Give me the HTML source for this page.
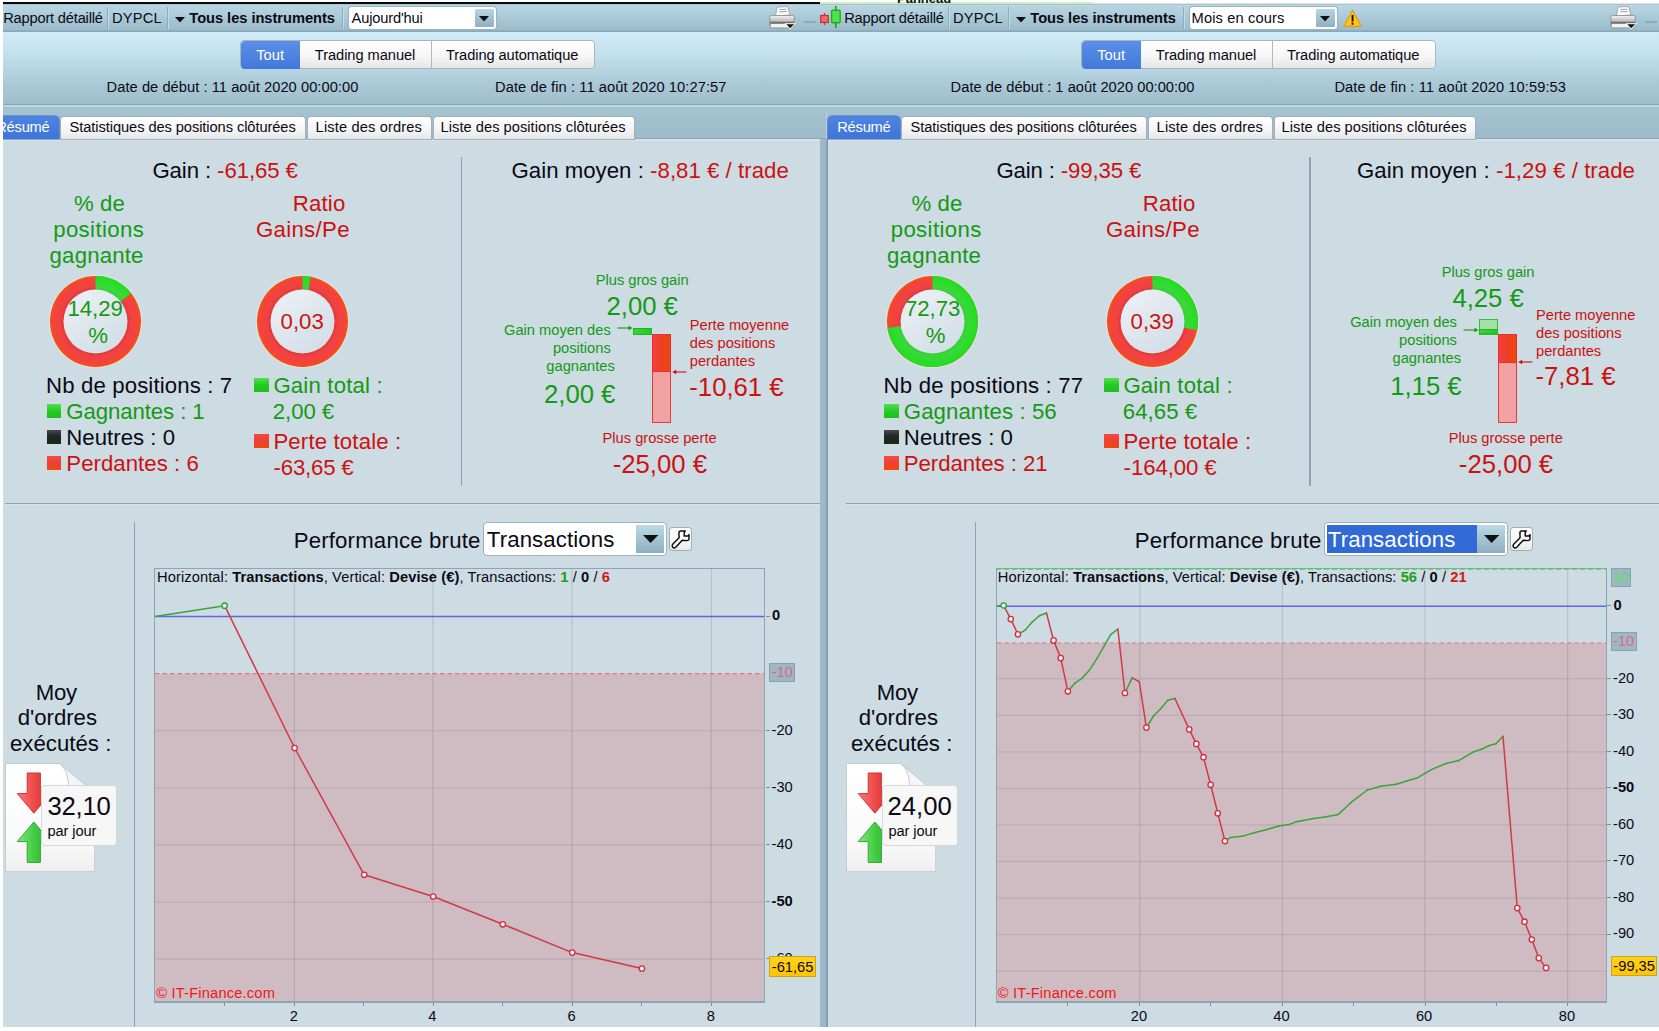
<!DOCTYPE html>
<html><head><meta charset="utf-8"><title>Rapport détaillé</title><style>
html,body{margin:0;padding:0;background:#fff;}
body{width:1659px;height:1031px;position:relative;overflow:hidden;font-family:"Liberation Sans",sans-serif;}
.t{position:absolute;white-space:pre;}
.b{position:absolute;}
.clip{position:absolute;overflow:hidden;}
.clip>.in{position:absolute;top:0;}
b{font-weight:700;}
</style></head><body>
<div class="b" style="left:3px;top:4px;width:1656px;height:28px;background:linear-gradient(#bad7e3,#adccd9 40%,#a3c2d0 70%,#9bbaca);"></div>
<div class="b" style="left:3px;top:30px;width:1656px;height:2px;background:linear-gradient(#93b2c1,#88a7b6);"></div>
<div class="b" style="left:3px;top:4px;width:1656px;height:1px;background:#a9c4d0;"></div>
<div class="b" style="left:3px;top:32px;width:1656px;height:72px;background:linear-gradient(#d0ecf8,#c3e0ec 30%,#a9c8d6 75%,#9fbdcb);"></div>
<div class="b" style="left:3px;top:104px;width:1656px;height:1px;background:#88a5b3;"></div>
<div class="b" style="left:3px;top:105px;width:1656px;height:1.5px;background:#bcd6e1;"></div>
<div class="b" style="left:3px;top:106.5px;width:1656px;height:33.5px;background:linear-gradient(#a6c3d1,#9cbac9);"></div>
<div class="b" style="left:3px;top:139px;width:1656px;height:888px;background:#cddbe3;"></div>
<div class="b" style="left:3px;top:138.4px;width:1656px;height:1px;background:#8da6b4;"></div>
<div class="b" style="left:3px;top:139.4px;width:1656px;height:1.6px;background:#d6e1e9;"></div>
<div class="b" style="left:820px;top:139px;width:8px;height:888px;background:linear-gradient(90deg,#9dbbc9,#98b6c5 70%,#7d98a8 92%,#8aa4b3);"></div>
<div class="b" style="left:826px;top:112px;width:1px;height:27px;background:#b5cdd9;"></div>
<div class="clip" style="left:3px;top:0;width:817px;height:1027px"><div class="in" style="left:-3px">
<div class="t" style="left:3.2px;top:11px;font-size:14.67px;line-height:14.67px;color:#0a0a14;letter-spacing:-0.194px;">Rapport détaillé</div>
<div class="b" style="left:107px;top:7px;width:1px;height:22px;background:#8eadbc;"></div>
<div class="b" style="left:108px;top:7px;width:1px;height:22px;background:#c2dbe6;"></div>
<div class="t" style="left:112px;top:11px;font-size:14.67px;line-height:14.67px;color:#0a0a14;letter-spacing:0.220px;">DYPCL</div>
<div class="b" style="left:167px;top:7px;width:1px;height:22px;background:#8eadbc;"></div>
<div class="b" style="left:168px;top:7px;width:1px;height:22px;background:#c2dbe6;"></div>
<svg class="b" style="left:174.5px;top:16.5px;" width="10" height="5.5" viewBox="0 0 10 5.5"><path d="M0 0 L10 0 L5 5.5 Z" fill="#111"/></svg>
<div class="t" style="left:189.3px;top:11px;font-size:14.67px;line-height:14.67px;color:#0a0a14;letter-spacing:-0.035px;"><span style="font-weight:700;">Tous les instruments</span></div>
<div class="b" style="left:342px;top:7px;width:1px;height:22px;background:#8eadbc;"></div>
<div class="b" style="left:343px;top:7px;width:1px;height:22px;background:#c2dbe6;"></div>
<div class="b" style="left:348.6px;top:7px;width:147.4px;height:22.4px;background:#fff;border-radius:3px;box-shadow:0 0 0 1px #9db3bf;"></div>
<div class="b" style="left:475px;top:8.8px;width:18.8px;height:18.6px;background:linear-gradient(#b7d6e3,#8fb0bf);border-radius:1px;"></div>
<svg class="b" style="left:479.4px;top:15.65px;" width="10" height="5.5" viewBox="0 0 10 5.5"><path d="M0 0 L10 0 L5 5.5 Z" fill="#111"/></svg>
<div class="t" style="left:351.6px;top:11px;font-size:14.67px;line-height:14.67px;color:#0a0a14;letter-spacing:-0.172px;">Aujourd'hui</div>
<svg class="b" style="left:768.5px;top:6px;" width="28" height="25" viewBox="0 0 28 25"><defs><linearGradient id="pg" x1="0" y1="0" x2="0" y2="1"><stop offset="0" stop-color="#f4f4f4"/><stop offset="0.45" stop-color="#bdbdbd"/><stop offset="0.55" stop-color="#6e6e6e"/><stop offset="1" stop-color="#e9e9e9"/></linearGradient></defs><path d="M8 1 L18.5 0.5 L21 9 L6.5 10 Z" fill="#fafafa" stroke="#9a9a9a" stroke-width="0.8"/><line x1="10.5" y1="3.6" x2="17" y2="3.3" stroke="#999" stroke-width="0.9"/><line x1="10.2" y1="5.8" x2="17.6" y2="5.5" stroke="#999" stroke-width="0.9"/><rect x="0.8" y="9.5" width="24.5" height="12.5" rx="1.5" fill="url(#pg)" stroke="#8c8c8c" stroke-width="0.8"/><rect x="2" y="18" width="22" height="3" fill="#f2f2f2"/><path d="M15.5 17.2 L27 17.2 L21.2 23.6 Z" fill="#fff"/><path d="M17.3 18.2 L25.2 18.2 L21.2 22.3 Z" fill="#111"/></svg>
<div class="b" style="left:804px;top:20.5px;width:12px;height:2.5px;background:#8daaba;"></div>
<div class="b" style="left:241px;top:41.4px;width:353px;height:26.8px;background:linear-gradient(#ffffff,#f6f6f6 55%,#e6e6e6);border-radius:3.5px;box-shadow:0 0 0 1px #aab4ba;"></div>
<div class="b" style="left:240.6px;top:40.9px;width:59.2px;height:27.8px;background:linear-gradient(#5b8fe8,#4279d8);border-radius:4px 0 0 4px;"></div>
<div class="b" style="left:431px;top:41.4px;width:1px;height:26.8px;background:#b4b9bd;"></div>
<div class="t" style="left:256.2px;top:48px;font-size:14.67px;line-height:14.67px;color:#fff;letter-spacing:0.057px;">Tout</div>
<div class="t" style="left:314.8px;top:48px;font-size:14.67px;line-height:14.67px;color:#0a0a14;letter-spacing:-0.057px;">Trading manuel</div>
<div class="t" style="left:446px;top:48px;font-size:14.67px;line-height:14.67px;color:#0a0a14;letter-spacing:-0.085px;">Trading automatique</div>
<div class="t" style="left:106.6px;top:80px;font-size:14.67px;line-height:14.67px;color:#0a0a14;letter-spacing:0.051px;">Date de début : 11 août 2020 00:00:00</div>
<div class="t" style="left:495px;top:80px;font-size:14.67px;line-height:14.67px;color:#0a0a14;letter-spacing:0.081px;">Date de fin : 11 août 2020 10:27:57</div>
<div class="b" style="left:-13.5px;top:115.5px;width:72px;height:23.5px;background:linear-gradient(#4d84e2,#3f76d6);border-radius:4px 4px 0 0;box-shadow:0 0 0 0.6px #3b6dc6;"></div>
<div class="b" style="left:60.5px;top:116.5px;width:244.5px;height:22.5px;background:linear-gradient(#ffffff,#f4f4f4 60%,#e4e6e8);border-radius:3px 3px 0 0;box-shadow:0 0 0 1px #9fb0ba;"></div>
<div class="b" style="left:307.5px;top:116.5px;width:123.5px;height:22.5px;background:linear-gradient(#ffffff,#f4f4f4 60%,#e4e6e8);border-radius:3px 3px 0 0;box-shadow:0 0 0 1px #9fb0ba;"></div>
<div class="b" style="left:433.5px;top:116.5px;width:200.7px;height:22.5px;background:linear-gradient(#ffffff,#f4f4f4 60%,#e4e6e8);border-radius:3px 3px 0 0;box-shadow:0 0 0 1px #9fb0ba;"></div>
<div class="t" style="left:-3.8px;top:120px;font-size:14.67px;line-height:14.67px;color:#fff;letter-spacing:-0.205px;">Résumé</div>
<div class="t" style="left:69.6px;top:120px;font-size:14.67px;line-height:14.67px;color:#0a0a14;letter-spacing:-0.080px;">Statistiques des positions clôturées</div>
<div class="t" style="left:315.6px;top:120px;font-size:14.67px;line-height:14.67px;color:#0a0a14;letter-spacing:0.137px;">Liste des ordres</div>
<div class="t" style="left:440.6px;top:120px;font-size:14.67px;line-height:14.67px;color:#0a0a14;letter-spacing:0.029px;">Liste des positions clôturées</div>
<div class="t" style="left:152.4px;top:160px;font-size:22.2px;line-height:22.2px;color:#0a0a14;letter-spacing:-0.095px;">Gain : <span style="color:#cc1111;">-61,65 €</span></div>
<div class="t" style="left:74px;top:193px;font-size:22.2px;line-height:22.2px;color:#149a14;letter-spacing:0.089px;">% de</div>
<div class="t" style="left:53.2px;top:219px;font-size:22.2px;line-height:22.2px;color:#149a14;letter-spacing:0.378px;">positions</div>
<div class="t" style="left:49.6px;top:245px;font-size:22.2px;line-height:22.2px;color:#149a14;letter-spacing:0.185px;">gagnante</div>
<svg class="b" style="left:47.5px;top:274px;" width="95" height="95" viewBox="0 0 95 95"><defs><radialGradient id="d1r" gradientUnits="userSpaceOnUse" cx="47.5" cy="47.5" r="45.5"><stop offset="0.703" stop-color="#e23838"/><stop offset="0.783" stop-color="#f14242"/><stop offset="0.92" stop-color="#f24340"/><stop offset="0.975" stop-color="#f64e12"/><stop offset="1" stop-color="#f8520c"/></radialGradient><radialGradient id="d1g" gradientUnits="userSpaceOnUse" cx="47.5" cy="47.5" r="45.5"><stop offset="0.703" stop-color="#37cf37"/><stop offset="0.783" stop-color="#3ad83a"/><stop offset="0.9" stop-color="#2bdc2b"/><stop offset="1" stop-color="#1ee01e"/></radialGradient><linearGradient id="d1i" x1="0.2" y1="0.1" x2="0.8" y2="0.95"><stop offset="0" stop-color="#e9eff4"/><stop offset="1" stop-color="#d2dde6"/></linearGradient></defs><circle cx="47.5" cy="47.5" r="46.8" fill="#dde7ee" opacity="0.6"/><circle cx="47.5" cy="47.5" r="45.5" fill="url(#d1r)"/><path d="M47.5 47.5 L47.5 2 A45.5 45.5 0 0 1 83.08 19.14 Z" fill="url(#d1g)"/><circle cx="47.5" cy="47.5" r="32" fill="url(#d1i)"/></svg>
<div class="t" style="left:95.2px;top:298px;font-size:22.2px;line-height:22.2px;color:#149a14;transform:translateX(-50%);">14,29</div>
<div class="t" style="left:98px;top:325px;font-size:22.2px;line-height:22.2px;color:#149a14;transform:translateX(-50%);">%</div>
<div class="t" style="left:46.1px;top:375px;font-size:22.2px;line-height:22.2px;color:#0a0a14;letter-spacing:0.126px;">Nb de positions : 7</div>
<div class="b" style="left:46.7px;top:403.9px;width:14.6px;height:14.2px;background:linear-gradient(#4fe04f,#22c822 55%,#1cc01c);"></div>
<div class="t" style="left:66.3px;top:401px;font-size:22.2px;line-height:22.2px;color:#149a14;letter-spacing:-0.087px;">Gagnantes : 1</div>
<div class="b" style="left:46.7px;top:429.9px;width:14.6px;height:14.2px;background:linear-gradient(#4a4a4a,#232323 45%,#123012);"></div>
<div class="t" style="left:66.3px;top:427px;font-size:22.2px;line-height:22.2px;color:#0a0a14;letter-spacing:0.022px;">Neutres : 0</div>
<div class="b" style="left:46.7px;top:455.9px;width:14.6px;height:14.2px;background:linear-gradient(#f24a4a,#ee4030 55%,#f0480e);"></div>
<div class="t" style="left:66.3px;top:453px;font-size:22.2px;line-height:22.2px;color:#cc1111;letter-spacing:0.047px;">Perdantes : 6</div>
<div class="t" style="left:292.7px;top:193px;font-size:22.2px;line-height:22.2px;color:#cc1111;letter-spacing:0.186px;">Ratio</div>
<div class="t" style="left:255.9px;top:219px;font-size:22.2px;line-height:22.2px;color:#cc1111;letter-spacing:0.339px;">Gains/Pe</div>
<svg class="b" style="left:254.9px;top:274px;" width="95" height="95" viewBox="0 0 95 95"><defs><radialGradient id="d2r" gradientUnits="userSpaceOnUse" cx="47.5" cy="47.5" r="45.5"><stop offset="0.703" stop-color="#e23838"/><stop offset="0.783" stop-color="#f14242"/><stop offset="0.92" stop-color="#f24340"/><stop offset="0.975" stop-color="#f64e12"/><stop offset="1" stop-color="#f8520c"/></radialGradient><radialGradient id="d2g" gradientUnits="userSpaceOnUse" cx="47.5" cy="47.5" r="45.5"><stop offset="0.703" stop-color="#37cf37"/><stop offset="0.783" stop-color="#3ad83a"/><stop offset="0.9" stop-color="#2bdc2b"/><stop offset="1" stop-color="#1ee01e"/></radialGradient><linearGradient id="d2i" x1="0.2" y1="0.1" x2="0.8" y2="0.95"><stop offset="0" stop-color="#e9eff4"/><stop offset="1" stop-color="#d2dde6"/></linearGradient></defs><circle cx="47.5" cy="47.5" r="46.8" fill="#dde7ee" opacity="0.6"/><circle cx="47.5" cy="47.5" r="45.5" fill="url(#d2r)"/><path d="M47.5 47.5 L47.5 2 A45.5 45.5 0 0 1 55.78 2.76 Z" fill="url(#d2g)"/><circle cx="47.5" cy="47.5" r="32" fill="url(#d2i)"/></svg>
<div class="t" style="left:302.2px;top:311px;font-size:22.2px;line-height:22.2px;color:#cc1111;transform:translateX(-50%);">0,03</div>
<div class="b" style="left:254px;top:378px;width:14.6px;height:14.2px;background:linear-gradient(#4fe04f,#22c822 55%,#1cc01c);"></div>
<div class="t" style="left:273.4px;top:375px;font-size:22.2px;line-height:22.2px;color:#149a14;letter-spacing:0.179px;">Gain total :</div>
<div class="t" style="left:272.8px;top:401px;font-size:22.2px;line-height:22.2px;color:#149a14;letter-spacing:-0.070px;">2,00 €</div>
<div class="b" style="left:254px;top:434.2px;width:14.6px;height:14.2px;background:linear-gradient(#f24a4a,#ee4030 55%,#f0480e);"></div>
<div class="t" style="left:273.4px;top:431px;font-size:22.2px;line-height:22.2px;color:#cc1111;letter-spacing:0.159px;">Perte totale :</div>
<div class="t" style="left:273.6px;top:457px;font-size:22.2px;line-height:22.2px;color:#cc1111;letter-spacing:-0.197px;">-63,65 €</div>
<div class="b" style="left:460.5px;top:157px;width:1.6px;height:328.5px;background:#8ea4b4;"></div>
<div class="t" style="left:511.5px;top:160px;font-size:22.2px;line-height:22.2px;color:#0a0a14;letter-spacing:0.036px;">Gain moyen : <span style="color:#cc1111;">-8,81 € / trade</span></div>
<div class="t" style="left:642.2px;top:273px;font-size:14.67px;line-height:14.67px;color:#149a14;transform:translateX(-50%);">Plus gros gain</div>
<div class="t" style="left:642.2px;top:294px;font-size:25.7px;line-height:25.7px;color:#149a14;transform:translateX(-50%);">2,00 €</div>
<div class="t" style="left:614.8px;top:323px;font-size:14.67px;line-height:14.67px;color:#149a14;transform:translateX(-100%);">Gain moyen des </div>
<div class="t" style="left:614.8px;top:341px;font-size:14.67px;line-height:14.67px;color:#149a14;transform:translateX(-100%);">positions </div>
<div class="t" style="left:614.8px;top:359px;font-size:14.67px;line-height:14.67px;color:#149a14;transform:translateX(-100%);">gagnantes</div>
<div class="t" style="left:615.4px;top:382px;font-size:25.7px;line-height:25.7px;color:#149a14;transform:translateX(-100%);">2,00 €</div>
<div class="b" style="left:633.1px;top:327.5px;width:19.1px;height:7px;background:linear-gradient(90deg,#3bd83b,#22c622);box-shadow:inset 0 0 0 1px #20b820;"></div>
<svg class="b" style="left:617.1px;top:325px;" width="16" height="6" viewBox="0 0 16 6"><line x1="0.5" y1="3" x2="14" y2="3" stroke="#149a14" stroke-width="1.1"/><path d="M11.5 0.8 L15.5 3 L11.5 5.2 Z" fill="#149a14"/></svg>
<div class="b" style="left:651.9px;top:334.2px;width:18.9px;height:89px;background:#f3a2a4;box-shadow:inset 0 0 0 1px #e83a3a;"></div>
<div class="b" style="left:651.9px;top:334.2px;width:18.9px;height:38px;background:linear-gradient(90deg,#f54040,#ee3e22 55%,#ef4a0a);box-shadow:inset 0 0 0 1px #e63030;"></div>
<svg class="b" style="left:671.8px;top:368.6px;" width="15" height="6" viewBox="0 0 15 6"><line x1="2" y1="3" x2="14.5" y2="3" stroke="#cc1111" stroke-width="1.1"/><path d="M4.2 0.8 L0.2 3 L4.2 5.2 Z" fill="#cc1111"/></svg>
<div class="t" style="left:689.8px;top:318px;font-size:14.67px;line-height:14.67px;color:#cc1111;">Perte moyenne</div>
<div class="t" style="left:689.8px;top:336px;font-size:14.67px;line-height:14.67px;color:#cc1111;">des positions</div>
<div class="t" style="left:689.8px;top:354px;font-size:14.67px;line-height:14.67px;color:#cc1111;">perdantes</div>
<div class="t" style="left:689.3px;top:375px;font-size:25.7px;line-height:25.7px;color:#cc1111;">-10,61 €</div>
<div class="t" style="left:659.6px;top:431px;font-size:14.67px;line-height:14.67px;color:#cc1111;transform:translateX(-50%);">Plus grosse perte</div>
<div class="t" style="left:659.8px;top:452px;font-size:25.7px;line-height:25.7px;color:#cc1111;transform:translateX(-50%);">-25,00 €</div>
<div class="b" style="left:5px;top:502.6px;width:815px;height:1.4px;background:#8ea6b4;"></div>
<div class="b" style="left:5px;top:504px;width:815px;height:1px;background:#d6e2e9;"></div>
<div class="b" style="left:133.6px;top:522px;width:1.6px;height:505px;background:#8ea4b4;"></div>
<div class="t" style="left:35.8px;top:682px;font-size:22.2px;line-height:22.2px;color:#0a0a14;letter-spacing:-0.311px;">Moy</div>
<div class="t" style="left:17.8px;top:707px;font-size:22.2px;line-height:22.2px;color:#0a0a14;letter-spacing:-0.039px;">d'ordres</div>
<div class="t" style="left:9.9px;top:733px;font-size:22.2px;line-height:22.2px;color:#0a0a14;letter-spacing:0.037px;">exécutés :</div>
<svg class="b" style="left:5.2px;top:762.7px;" width="90.2" height="109.2" viewBox="0 0 90.2 109.2"><defs><linearGradient id="dg1" x1="0" y1="0" x2="0" y2="1"><stop offset="0" stop-color="#ffffff"/><stop offset="0.7" stop-color="#fafafa"/><stop offset="1" stop-color="#efefef"/></linearGradient></defs><path d="M0.5 0.5 L54.6 0.5 L89.7 30 L89.7 108.7 L0.5 108.7 Z" fill="url(#dg1)" stroke="#c4ccd2" stroke-width="1"/><path d="M54.6 0.5 C61.6 6 63.6 14 64.1 30 L89.7 30 Z" fill="#f3f5f7" stroke="#c4ccd2" stroke-width="1"/><defs><linearGradient id="ra1" x1="0" y1="0" x2="1" y2="0"><stop offset="0" stop-color="#f77"/><stop offset="0.5" stop-color="#ee4a4a"/><stop offset="1" stop-color="#d83030"/></linearGradient><linearGradient id="ga1" x1="0" y1="0" x2="1" y2="0"><stop offset="0" stop-color="#7fe87f"/><stop offset="0.5" stop-color="#44cc44"/><stop offset="1" stop-color="#2cb02c"/></linearGradient></defs><path d="M22.2 10 L35.4 10 L35.4 30.6 L45.4 30.6 L28.9 50.2 L12.3 30.6 L22.2 30.6 Z" fill="url(#ra1)" stroke="#c52a2a" stroke-width="0.9" stroke-linejoin="round"/><path d="M28.9 59 L45.4 78.6 L35.4 78.6 L35.4 99.4 L22.2 99.4 L22.2 78.6 L12.3 78.6 Z" fill="url(#ga1)" stroke="#26a026" stroke-width="0.9" stroke-linejoin="round"/></svg>
<div class="b" style="left:42.4px;top:785.6px;width:73.8px;height:59.2px;background:#f7f7f7;border-radius:3px;box-shadow:0 0 0 1px #d3d9dd;"></div>
<div class="t" style="left:47.5px;top:794px;font-size:25.7px;line-height:25.7px;color:#0a0a14;letter-spacing:-0.249px;">32,10</div>
<div class="t" style="left:47.5px;top:824px;font-size:14.67px;line-height:14.67px;color:#0a0a14;letter-spacing:-0.116px;">par jour</div>
<div class="t" style="left:293.7px;top:530px;font-size:22.2px;line-height:22.2px;color:#0a0a14;letter-spacing:0.181px;">Performance brute</div>
<div class="b" style="left:484.3px;top:523.3px;width:182.2px;height:31.5px;background:#fff;border-radius:3.5px;box-shadow:0 0 0 1px #9db3bf;"></div>
<div class="b" style="left:636.2px;top:525.4px;width:28px;height:27.4px;background:linear-gradient(#bcdae6,#a4c4d2 50%,#8eafbe);"></div>
<svg class="b" style="left:642.8px;top:535.2px;" width="15.2" height="8" viewBox="0 0 15.2 8"><path d="M0 0 L15.2 0 L7.6 8 Z" fill="#111"/></svg>
<div class="t" style="left:486.8px;top:529px;font-size:22.2px;line-height:22.2px;color:#0a0a14;letter-spacing:0.128px;">Transactions</div>
<div class="b" style="left:670px;top:527.9px;width:21.3px;height:21.8px;background:linear-gradient(#fcfcfc,#f6f6f6 60%,#e9e9e9);border-radius:3px;box-shadow:0 0 0 1px #9fb0b9;"></div>
<svg class="b" style="left:669.6px;top:527.6px;" width="22" height="22" viewBox="0 0 22 22"><path d="M2.7 16.3 L9.1 9.8 L8.9 4.9 Q8.9 2.9 10.9 2.9 L15.3 2.9 L14.2 4.5 L14.2 7.9 L18.2 7.9 L19 6.7 L19 10.4 Q19 12.7 16.8 12.6 L12.2 12.2 L5.7 19.2 Q4.1 20.6 2.7 19.2 Q1.5 17.7 2.7 16.3 Z" fill="#fff" stroke="#0c0c0c" stroke-width="1.45" stroke-linejoin="round"/></svg>
<svg class="b" style="left:155.2px;top:569.3px;overflow:hidden" width="609.3" height="432.2" viewBox="0 0 609.3 432.2"><rect x="0" y="104.7" width="609.3" height="327.5" fill="#cfbbc2"/><line x1="139.3" y1="0" x2="139.3" y2="432.2" stroke="#5a6878" stroke-opacity="0.24" stroke-width="1"/><line x1="277.9" y1="0" x2="277.9" y2="432.2" stroke="#5a6878" stroke-opacity="0.24" stroke-width="1"/><line x1="417" y1="0" x2="417" y2="432.2" stroke="#5a6878" stroke-opacity="0.24" stroke-width="1"/><line x1="556.3" y1="0" x2="556.3" y2="432.2" stroke="#5a6878" stroke-opacity="0.24" stroke-width="1"/><line x1="0" y1="161.9" x2="609.3" y2="161.9" stroke="#5a5060" stroke-opacity="0.18" stroke-width="1"/><line x1="0" y1="219" x2="609.3" y2="219" stroke="#5a5060" stroke-opacity="0.18" stroke-width="1"/><line x1="0" y1="276" x2="609.3" y2="276" stroke="#5a5060" stroke-opacity="0.18" stroke-width="1"/><line x1="0" y1="333.1" x2="609.3" y2="333.1" stroke="#5a5060" stroke-opacity="0.18" stroke-width="1"/><line x1="0" y1="390.1" x2="609.3" y2="390.1" stroke="#5a5060" stroke-opacity="0.18" stroke-width="1"/><line x1="0" y1="104.7" x2="609.3" y2="104.7" stroke="#e8707c" stroke-width="1.2" stroke-dasharray="4.5 3"/><line x1="0" y1="47.6" x2="609.3" y2="47.6" stroke="#6464dc" stroke-width="1.5"/><line x1="0.2" y1="47.6" x2="69.6" y2="36.7" stroke="#3aa53a" stroke-width="1.5" stroke-linecap="round"/><line x1="69.6" y1="36.7" x2="139.6" y2="179" stroke="#d23a44" stroke-width="1.5" stroke-linecap="round"/><line x1="139.6" y1="179" x2="209.2" y2="305.8" stroke="#d23a44" stroke-width="1.5" stroke-linecap="round"/><line x1="209.2" y1="305.8" x2="278.2" y2="327.5" stroke="#d23a44" stroke-width="1.5" stroke-linecap="round"/><line x1="278.2" y1="327.5" x2="347.8" y2="355.3" stroke="#d23a44" stroke-width="1.5" stroke-linecap="round"/><line x1="347.8" y1="355.3" x2="417.3" y2="383.6" stroke="#d23a44" stroke-width="1.5" stroke-linecap="round"/><line x1="417.3" y1="383.6" x2="486.9" y2="399.6" stroke="#d23a44" stroke-width="1.5" stroke-linecap="round"/><circle cx="69.6" cy="36.7" r="2.7" fill="#e8f2f4" stroke="#2f9e2f" stroke-width="1.3"/><circle cx="139.6" cy="179" r="2.7" fill="#e8f2f4" stroke="#d2303c" stroke-width="1.3"/><circle cx="209.2" cy="305.8" r="2.7" fill="#e8f2f4" stroke="#d2303c" stroke-width="1.3"/><circle cx="278.2" cy="327.5" r="2.7" fill="#e8f2f4" stroke="#d2303c" stroke-width="1.3"/><circle cx="347.8" cy="355.3" r="2.7" fill="#e8f2f4" stroke="#d2303c" stroke-width="1.3"/><circle cx="417.3" cy="383.6" r="2.7" fill="#e8f2f4" stroke="#d2303c" stroke-width="1.3"/><circle cx="486.9" cy="399.6" r="2.7" fill="#e8f2f4" stroke="#d2303c" stroke-width="1.3"/></svg>
<div class="b" style="left:154.2px;top:568.3px;width:611.3px;height:434.4px;border:1.6px solid #8ea3b3;box-sizing:border-box;border-right-width:1.8px;border-bottom-width:2px;"></div>
<div class="t" style="left:157px;top:570px;font-size:14.67px;line-height:14.67px;color:#0a0a14;letter-spacing:0.093px;">Horizontal: <span style="font-weight:700;">Transactions</span>, Vertical: <span style="font-weight:700;">Devise (€)</span>, Transactions: <span style="font-weight:700;color:#1aa01a;">1</span> / <span style="font-weight:700;">0</span> / <span style="font-weight:700;color:#d01818;">6</span></div>
<div class="t" style="left:156.3px;top:986px;font-size:14.67px;line-height:14.67px;color:#f01818;letter-spacing:0.183px;">© IT-Finance.com</div>
<div class="t" style="left:293.8px;top:1009px;font-size:14.67px;line-height:14.67px;color:#0a0a14;transform:translateX(-50%);">2</div>
<div class="t" style="left:432.4px;top:1009px;font-size:14.67px;line-height:14.67px;color:#0a0a14;transform:translateX(-50%);">4</div>
<div class="t" style="left:571.5px;top:1009px;font-size:14.67px;line-height:14.67px;color:#0a0a14;transform:translateX(-50%);">6</div>
<div class="t" style="left:710.8px;top:1009px;font-size:14.67px;line-height:14.67px;color:#0a0a14;transform:translateX(-50%);">8</div>
<div class="b" style="left:223.95px;top:1002.5px;width:1px;height:3.5px;background:#7d8f9c;"></div>
<div class="b" style="left:293.5px;top:1002.5px;width:1px;height:3.5px;background:#7d8f9c;"></div>
<div class="b" style="left:363.05px;top:1002.5px;width:1px;height:3.5px;background:#7d8f9c;"></div>
<div class="b" style="left:432.6px;top:1002.5px;width:1px;height:3.5px;background:#7d8f9c;"></div>
<div class="b" style="left:502.15px;top:1002.5px;width:1px;height:3.5px;background:#7d8f9c;"></div>
<div class="b" style="left:571.7px;top:1002.5px;width:1px;height:3.5px;background:#7d8f9c;"></div>
<div class="b" style="left:641.25px;top:1002.5px;width:1px;height:3.5px;background:#7d8f9c;"></div>
<div class="b" style="left:710.8px;top:1002.5px;width:1px;height:3.5px;background:#7d8f9c;"></div>
<div class="b" style="left:765.5px;top:615.5px;width:4px;height:1px;background:#7d8f9c;"></div>
<div class="t" style="left:772px;top:608px;font-size:14.67px;line-height:14.67px;color:#0a0a14;font-weight:700;">0</div>
<div class="b" style="left:765.5px;top:729.8px;width:4px;height:1px;background:#7d8f9c;"></div>
<div class="t" style="left:771.5px;top:723px;font-size:14.67px;line-height:14.67px;color:#0a0a14;">-20</div>
<div class="b" style="left:765.5px;top:786.9px;width:4px;height:1px;background:#7d8f9c;"></div>
<div class="t" style="left:771.5px;top:780px;font-size:14.67px;line-height:14.67px;color:#0a0a14;">-30</div>
<div class="b" style="left:765.5px;top:843.9px;width:4px;height:1px;background:#7d8f9c;"></div>
<div class="t" style="left:771.5px;top:837px;font-size:14.67px;line-height:14.67px;color:#0a0a14;">-40</div>
<div class="b" style="left:765.5px;top:901px;width:4px;height:1px;background:#7d8f9c;"></div>
<div class="t" style="left:771.5px;top:894px;font-size:14.67px;line-height:14.67px;color:#0a0a14;font-weight:700;">-50</div>
<div class="b" style="left:765.5px;top:958px;width:4px;height:1px;background:#7d8f9c;"></div>
<div class="t" style="left:771.5px;top:951px;font-size:14.67px;line-height:14.67px;color:#0a0a14;">-60</div>
<div class="b" style="left:769.4px;top:662.6px;width:25.9px;height:19.2px;background:#9fb7c4;box-shadow:inset 0 0 0 1px #8aa2b0;"></div>
<div class="t" style="left:782.35px;top:665px;font-size:14.67px;line-height:14.67px;color:#e06a78;transform:translateX(-50%);">-10</div>
<div class="b" style="left:769.4px;top:956.2px;width:46.4px;height:20.4px;background:linear-gradient(#ffd21e,#ffc400);box-shadow:inset 0 0 0 1px #c9a420;"></div>
<div class="t" style="left:792.6px;top:960px;font-size:14.67px;line-height:14.67px;color:#0a0a14;transform:translateX(-50%);">-61,65</div>
</div></div>
<div class="clip" style="left:820px;top:0;width:839px;height:1027px"><div class="in" style="left:-820px">
<svg class="b" style="left:820px;top:0px;" width="22" height="32" viewBox="0 0 22 32"><line x1="4.5" y1="13" x2="4.5" y2="25" stroke="#c83c3c" stroke-width="1.4"/><rect x="0.7" y="15.5" width="7.6" height="7" fill="#f06a6a" stroke="#c83030" stroke-width="1.2"/><line x1="15.8" y1="6" x2="15.8" y2="28" stroke="#22a022" stroke-width="1.6"/><rect x="11.6" y="10.3" width="8.6" height="12.5" rx="1" fill="#4fe24f" stroke="#1fae1f" stroke-width="1.4"/></svg>
<div class="t" style="left:844.2px;top:11px;font-size:14.67px;line-height:14.67px;color:#0a0a14;letter-spacing:-0.194px;">Rapport détaillé</div>
<div class="b" style="left:948px;top:7px;width:1px;height:22px;background:#8eadbc;"></div>
<div class="b" style="left:949px;top:7px;width:1px;height:22px;background:#c2dbe6;"></div>
<div class="t" style="left:953px;top:11px;font-size:14.67px;line-height:14.67px;color:#0a0a14;letter-spacing:0.220px;">DYPCL</div>
<div class="b" style="left:1008px;top:7px;width:1px;height:22px;background:#8eadbc;"></div>
<div class="b" style="left:1009px;top:7px;width:1px;height:22px;background:#c2dbe6;"></div>
<svg class="b" style="left:1015.5px;top:16.5px;" width="10" height="5.5" viewBox="0 0 10 5.5"><path d="M0 0 L10 0 L5 5.5 Z" fill="#111"/></svg>
<div class="t" style="left:1030.3px;top:11px;font-size:14.67px;line-height:14.67px;color:#0a0a14;letter-spacing:-0.035px;"><span style="font-weight:700;">Tous les instruments</span></div>
<div class="b" style="left:1183px;top:7px;width:1px;height:22px;background:#8eadbc;"></div>
<div class="b" style="left:1184px;top:7px;width:1px;height:22px;background:#c2dbe6;"></div>
<div class="b" style="left:1189.6px;top:7px;width:147.4px;height:22.4px;background:#fff;border-radius:3px;box-shadow:0 0 0 1px #9db3bf;"></div>
<div class="b" style="left:1316px;top:8.8px;width:18.8px;height:18.6px;background:linear-gradient(#b7d6e3,#8fb0bf);border-radius:1px;"></div>
<svg class="b" style="left:1320.4px;top:15.65px;" width="10" height="5.5" viewBox="0 0 10 5.5"><path d="M0 0 L10 0 L5 5.5 Z" fill="#111"/></svg>
<div class="t" style="left:1191.6px;top:11px;font-size:14.67px;line-height:14.67px;color:#0a0a14;letter-spacing:0.125px;">Mois en cours</div>
<svg class="b" style="left:1343px;top:9px;" width="19" height="19" viewBox="0 0 19 19"><path d="M9.5 1.2 L18 17.3 L1 17.3 Z" fill="#ffc61a" stroke="#e89a10" stroke-width="1.2" stroke-linejoin="round"/><rect x="8.6" y="6" width="1.9" height="6.6" fill="#111"/><rect x="8.6" y="13.7" width="1.9" height="2" fill="#111"/></svg>
<svg class="b" style="left:1609.5px;top:6px;" width="28" height="25" viewBox="0 0 28 25"><defs><linearGradient id="pg" x1="0" y1="0" x2="0" y2="1"><stop offset="0" stop-color="#f4f4f4"/><stop offset="0.45" stop-color="#bdbdbd"/><stop offset="0.55" stop-color="#6e6e6e"/><stop offset="1" stop-color="#e9e9e9"/></linearGradient></defs><path d="M8 1 L18.5 0.5 L21 9 L6.5 10 Z" fill="#fafafa" stroke="#9a9a9a" stroke-width="0.8"/><line x1="10.5" y1="3.6" x2="17" y2="3.3" stroke="#999" stroke-width="0.9"/><line x1="10.2" y1="5.8" x2="17.6" y2="5.5" stroke="#999" stroke-width="0.9"/><rect x="0.8" y="9.5" width="24.5" height="12.5" rx="1.5" fill="url(#pg)" stroke="#8c8c8c" stroke-width="0.8"/><rect x="2" y="18" width="22" height="3" fill="#f2f2f2"/><path d="M15.5 17.2 L27 17.2 L21.2 23.6 Z" fill="#fff"/><path d="M17.3 18.2 L25.2 18.2 L21.2 22.3 Z" fill="#111"/></svg>
<div class="b" style="left:1645px;top:20.5px;width:12px;height:2.5px;background:#8daaba;"></div>
<div class="b" style="left:1082px;top:41.4px;width:353px;height:26.8px;background:linear-gradient(#ffffff,#f6f6f6 55%,#e6e6e6);border-radius:3.5px;box-shadow:0 0 0 1px #aab4ba;"></div>
<div class="b" style="left:1081.6px;top:40.9px;width:59.2px;height:27.8px;background:linear-gradient(#5b8fe8,#4279d8);border-radius:4px 0 0 4px;"></div>
<div class="b" style="left:1272px;top:41.4px;width:1px;height:26.8px;background:#b4b9bd;"></div>
<div class="t" style="left:1097.2px;top:48px;font-size:14.67px;line-height:14.67px;color:#fff;letter-spacing:0.057px;">Tout</div>
<div class="t" style="left:1155.8px;top:48px;font-size:14.67px;line-height:14.67px;color:#0a0a14;letter-spacing:-0.057px;">Trading manuel</div>
<div class="t" style="left:1287px;top:48px;font-size:14.67px;line-height:14.67px;color:#0a0a14;letter-spacing:-0.085px;">Trading automatique</div>
<div class="t" style="left:950.6px;top:80px;font-size:14.67px;line-height:14.67px;color:#0a0a14;letter-spacing:0.029px;">Date de début : 1 août 2020 00:00:00</div>
<div class="t" style="left:1334.4px;top:80px;font-size:14.67px;line-height:14.67px;color:#0a0a14;letter-spacing:0.084px;">Date de fin : 11 août 2020 10:59:53</div>
<div class="b" style="left:827.5px;top:115.5px;width:72px;height:23.5px;background:linear-gradient(#4d84e2,#3f76d6);border-radius:4px 4px 0 0;box-shadow:0 0 0 0.6px #3b6dc6;"></div>
<div class="b" style="left:901.5px;top:116.5px;width:244.5px;height:22.5px;background:linear-gradient(#ffffff,#f4f4f4 60%,#e4e6e8);border-radius:3px 3px 0 0;box-shadow:0 0 0 1px #9fb0ba;"></div>
<div class="b" style="left:1148.5px;top:116.5px;width:123.5px;height:22.5px;background:linear-gradient(#ffffff,#f4f4f4 60%,#e4e6e8);border-radius:3px 3px 0 0;box-shadow:0 0 0 1px #9fb0ba;"></div>
<div class="b" style="left:1274.5px;top:116.5px;width:200.7px;height:22.5px;background:linear-gradient(#ffffff,#f4f4f4 60%,#e4e6e8);border-radius:3px 3px 0 0;box-shadow:0 0 0 1px #9fb0ba;"></div>
<div class="t" style="left:837.2px;top:120px;font-size:14.67px;line-height:14.67px;color:#fff;letter-spacing:-0.205px;">Résumé</div>
<div class="t" style="left:910.6px;top:120px;font-size:14.67px;line-height:14.67px;color:#0a0a14;letter-spacing:-0.080px;">Statistiques des positions clôturées</div>
<div class="t" style="left:1156.6px;top:120px;font-size:14.67px;line-height:14.67px;color:#0a0a14;letter-spacing:0.137px;">Liste des ordres</div>
<div class="t" style="left:1281.6px;top:120px;font-size:14.67px;line-height:14.67px;color:#0a0a14;letter-spacing:0.029px;">Liste des positions clôturées</div>
<div class="t" style="left:996.4px;top:160px;font-size:22.2px;line-height:22.2px;color:#0a0a14;letter-spacing:-0.131px;">Gain : <span style="color:#cc1111;">-99,35 €</span></div>
<div class="t" style="left:911.5px;top:193px;font-size:22.2px;line-height:22.2px;color:#149a14;letter-spacing:0.089px;">% de</div>
<div class="t" style="left:890.7px;top:219px;font-size:22.2px;line-height:22.2px;color:#149a14;letter-spacing:0.378px;">positions</div>
<div class="t" style="left:887.1px;top:245px;font-size:22.2px;line-height:22.2px;color:#149a14;letter-spacing:0.185px;">gagnante</div>
<svg class="b" style="left:885px;top:274px;" width="95" height="95" viewBox="0 0 95 95"><defs><radialGradient id="d3r" gradientUnits="userSpaceOnUse" cx="47.5" cy="47.5" r="45.5"><stop offset="0.703" stop-color="#e23838"/><stop offset="0.783" stop-color="#f14242"/><stop offset="0.92" stop-color="#f24340"/><stop offset="0.975" stop-color="#f64e12"/><stop offset="1" stop-color="#f8520c"/></radialGradient><radialGradient id="d3g" gradientUnits="userSpaceOnUse" cx="47.5" cy="47.5" r="45.5"><stop offset="0.703" stop-color="#37cf37"/><stop offset="0.783" stop-color="#3ad83a"/><stop offset="0.9" stop-color="#2bdc2b"/><stop offset="1" stop-color="#1ee01e"/></radialGradient><linearGradient id="d3i" x1="0.2" y1="0.1" x2="0.8" y2="0.95"><stop offset="0" stop-color="#e9eff4"/><stop offset="1" stop-color="#d2dde6"/></linearGradient></defs><circle cx="47.5" cy="47.5" r="46.8" fill="#dde7ee" opacity="0.6"/><circle cx="47.5" cy="47.5" r="45.5" fill="url(#d3r)"/><path d="M47.5 47.5 L47.5 2 A45.5 45.5 0 1 1 2.46 53.97 Z" fill="url(#d3g)"/><circle cx="47.5" cy="47.5" r="32" fill="url(#d3i)"/></svg>
<div class="t" style="left:932.7px;top:298px;font-size:22.2px;line-height:22.2px;color:#149a14;transform:translateX(-50%);">72,73</div>
<div class="t" style="left:935.5px;top:325px;font-size:22.2px;line-height:22.2px;color:#149a14;transform:translateX(-50%);">%</div>
<div class="t" style="left:883.6px;top:375px;font-size:22.2px;line-height:22.2px;color:#0a0a14;letter-spacing:0.175px;">Nb de positions : 77</div>
<div class="b" style="left:884.2px;top:403.9px;width:14.6px;height:14.2px;background:linear-gradient(#4fe04f,#22c822 55%,#1cc01c);"></div>
<div class="t" style="left:903.8px;top:401px;font-size:22.2px;line-height:22.2px;color:#149a14;letter-spacing:0.086px;">Gagnantes : 56</div>
<div class="b" style="left:884.2px;top:429.9px;width:14.6px;height:14.2px;background:linear-gradient(#4a4a4a,#232323 45%,#123012);"></div>
<div class="t" style="left:903.8px;top:427px;font-size:22.2px;line-height:22.2px;color:#0a0a14;letter-spacing:0.062px;">Neutres : 0</div>
<div class="b" style="left:884.2px;top:455.9px;width:14.6px;height:14.2px;background:linear-gradient(#f24a4a,#ee4030 55%,#f0480e);"></div>
<div class="t" style="left:903.8px;top:453px;font-size:22.2px;line-height:22.2px;color:#cc1111;letter-spacing:-0.044px;">Perdantes : 21</div>
<div class="t" style="left:1142.7px;top:193px;font-size:22.2px;line-height:22.2px;color:#cc1111;letter-spacing:0.186px;">Ratio</div>
<div class="t" style="left:1105.9px;top:219px;font-size:22.2px;line-height:22.2px;color:#cc1111;letter-spacing:0.339px;">Gains/Pe</div>
<svg class="b" style="left:1104.9px;top:274px;" width="95" height="95" viewBox="0 0 95 95"><defs><radialGradient id="d4r" gradientUnits="userSpaceOnUse" cx="47.5" cy="47.5" r="45.5"><stop offset="0.703" stop-color="#e23838"/><stop offset="0.783" stop-color="#f14242"/><stop offset="0.92" stop-color="#f24340"/><stop offset="0.975" stop-color="#f64e12"/><stop offset="1" stop-color="#f8520c"/></radialGradient><radialGradient id="d4g" gradientUnits="userSpaceOnUse" cx="47.5" cy="47.5" r="45.5"><stop offset="0.703" stop-color="#37cf37"/><stop offset="0.783" stop-color="#3ad83a"/><stop offset="0.9" stop-color="#2bdc2b"/><stop offset="1" stop-color="#1ee01e"/></radialGradient><linearGradient id="d4i" x1="0.2" y1="0.1" x2="0.8" y2="0.95"><stop offset="0" stop-color="#e9eff4"/><stop offset="1" stop-color="#d2dde6"/></linearGradient></defs><circle cx="47.5" cy="47.5" r="46.8" fill="#dde7ee" opacity="0.6"/><circle cx="47.5" cy="47.5" r="45.5" fill="url(#d4r)"/><path d="M47.5 47.5 L47.5 2 A45.5 45.5 0 0 1 92.16 56.19 Z" fill="url(#d4g)"/><circle cx="47.5" cy="47.5" r="32" fill="url(#d4i)"/></svg>
<div class="t" style="left:1152.2px;top:311px;font-size:22.2px;line-height:22.2px;color:#cc1111;transform:translateX(-50%);">0,39</div>
<div class="b" style="left:1104px;top:378px;width:14.6px;height:14.2px;background:linear-gradient(#4fe04f,#22c822 55%,#1cc01c);"></div>
<div class="t" style="left:1123.4px;top:375px;font-size:22.2px;line-height:22.2px;color:#149a14;letter-spacing:0.179px;">Gain total :</div>
<div class="t" style="left:1122.8px;top:401px;font-size:22.2px;line-height:22.2px;color:#149a14;letter-spacing:0.052px;">64,65 €</div>
<div class="b" style="left:1104px;top:434.2px;width:14.6px;height:14.2px;background:linear-gradient(#f24a4a,#ee4030 55%,#f0480e);"></div>
<div class="t" style="left:1123.4px;top:431px;font-size:22.2px;line-height:22.2px;color:#cc1111;letter-spacing:0.159px;">Perte totale :</div>
<div class="t" style="left:1123.6px;top:457px;font-size:22.2px;line-height:22.2px;color:#cc1111;letter-spacing:-0.089px;">-164,00 €</div>
<div class="b" style="left:1309.3px;top:157px;width:1.6px;height:328.5px;background:#8ea4b4;"></div>
<div class="t" style="left:1357px;top:160px;font-size:22.2px;line-height:22.2px;color:#0a0a14;letter-spacing:0.062px;">Gain moyen : <span style="color:#cc1111;">-1,29 € / trade</span></div>
<div class="t" style="left:1488.1px;top:265px;font-size:14.67px;line-height:14.67px;color:#149a14;transform:translateX(-50%);">Plus gros gain</div>
<div class="t" style="left:1488.1px;top:286px;font-size:25.7px;line-height:25.7px;color:#149a14;transform:translateX(-50%);">4,25 €</div>
<div class="t" style="left:1461px;top:315px;font-size:14.67px;line-height:14.67px;color:#149a14;transform:translateX(-100%);">Gain moyen des </div>
<div class="t" style="left:1461px;top:333px;font-size:14.67px;line-height:14.67px;color:#149a14;transform:translateX(-100%);">positions </div>
<div class="t" style="left:1461px;top:351px;font-size:14.67px;line-height:14.67px;color:#149a14;transform:translateX(-100%);">gagnantes</div>
<div class="t" style="left:1461.6px;top:374px;font-size:25.7px;line-height:25.7px;color:#149a14;transform:translateX(-100%);">1,15 €</div>
<div class="b" style="left:1479.3px;top:319px;width:19.1px;height:15.5px;background:#a3dfa6;box-shadow:inset 0 0 0 1px #2fc42f;"></div>
<div class="b" style="left:1479.3px;top:329.3px;width:19.1px;height:5.2px;background:linear-gradient(90deg,#3bd83b,#22c622);box-shadow:inset 0 0 0 1px #20b820;"></div>
<svg class="b" style="left:1463.3px;top:327.3px;" width="16" height="6" viewBox="0 0 16 6"><line x1="0.5" y1="3" x2="14" y2="3" stroke="#149a14" stroke-width="1.1"/><path d="M11.5 0.8 L15.5 3 L11.5 5.2 Z" fill="#149a14"/></svg>
<div class="b" style="left:1498.1px;top:334.2px;width:18.9px;height:89px;background:#f3a2a4;box-shadow:inset 0 0 0 1px #e83a3a;"></div>
<div class="b" style="left:1498.1px;top:334.2px;width:18.9px;height:28.7px;background:linear-gradient(90deg,#f54040,#ee3e22 55%,#ef4a0a);box-shadow:inset 0 0 0 1px #e63030;"></div>
<svg class="b" style="left:1518px;top:359.2px;" width="15" height="6" viewBox="0 0 15 6"><line x1="2" y1="3" x2="14.5" y2="3" stroke="#cc1111" stroke-width="1.1"/><path d="M4.2 0.8 L0.2 3 L4.2 5.2 Z" fill="#cc1111"/></svg>
<div class="t" style="left:1536px;top:308px;font-size:14.67px;line-height:14.67px;color:#cc1111;">Perte moyenne</div>
<div class="t" style="left:1536px;top:326px;font-size:14.67px;line-height:14.67px;color:#cc1111;">des positions</div>
<div class="t" style="left:1536px;top:344px;font-size:14.67px;line-height:14.67px;color:#cc1111;">perdantes</div>
<div class="t" style="left:1535.5px;top:364px;font-size:25.7px;line-height:25.7px;color:#cc1111;">-7,81 €</div>
<div class="t" style="left:1505.8px;top:431px;font-size:14.67px;line-height:14.67px;color:#cc1111;transform:translateX(-50%);">Plus grosse perte</div>
<div class="t" style="left:1506px;top:452px;font-size:25.7px;line-height:25.7px;color:#cc1111;transform:translateX(-50%);">-25,00 €</div>
<div class="b" style="left:846px;top:502.6px;width:813px;height:1.4px;background:#8ea6b4;"></div>
<div class="b" style="left:846px;top:504px;width:813px;height:1px;background:#d6e2e9;"></div>
<div class="b" style="left:974.6px;top:522px;width:1.6px;height:505px;background:#8ea4b4;"></div>
<div class="t" style="left:876.8px;top:682px;font-size:22.2px;line-height:22.2px;color:#0a0a14;letter-spacing:-0.311px;">Moy</div>
<div class="t" style="left:858.8px;top:707px;font-size:22.2px;line-height:22.2px;color:#0a0a14;letter-spacing:-0.039px;">d'ordres</div>
<div class="t" style="left:850.9px;top:733px;font-size:22.2px;line-height:22.2px;color:#0a0a14;letter-spacing:0.037px;">exécutés :</div>
<svg class="b" style="left:846.2px;top:762.7px;" width="90.2" height="109.2" viewBox="0 0 90.2 109.2"><defs><linearGradient id="dg0" x1="0" y1="0" x2="0" y2="1"><stop offset="0" stop-color="#ffffff"/><stop offset="0.7" stop-color="#fafafa"/><stop offset="1" stop-color="#efefef"/></linearGradient></defs><path d="M0.5 0.5 L54.6 0.5 L89.7 30 L89.7 108.7 L0.5 108.7 Z" fill="url(#dg0)" stroke="#c4ccd2" stroke-width="1"/><path d="M54.6 0.5 C61.6 6 63.6 14 64.1 30 L89.7 30 Z" fill="#f3f5f7" stroke="#c4ccd2" stroke-width="1"/><defs><linearGradient id="ra0" x1="0" y1="0" x2="1" y2="0"><stop offset="0" stop-color="#f77"/><stop offset="0.5" stop-color="#ee4a4a"/><stop offset="1" stop-color="#d83030"/></linearGradient><linearGradient id="ga0" x1="0" y1="0" x2="1" y2="0"><stop offset="0" stop-color="#7fe87f"/><stop offset="0.5" stop-color="#44cc44"/><stop offset="1" stop-color="#2cb02c"/></linearGradient></defs><path d="M22.2 10 L35.4 10 L35.4 30.6 L45.4 30.6 L28.9 50.2 L12.3 30.6 L22.2 30.6 Z" fill="url(#ra0)" stroke="#c52a2a" stroke-width="0.9" stroke-linejoin="round"/><path d="M28.9 59 L45.4 78.6 L35.4 78.6 L35.4 99.4 L22.2 99.4 L22.2 78.6 L12.3 78.6 Z" fill="url(#ga0)" stroke="#26a026" stroke-width="0.9" stroke-linejoin="round"/></svg>
<div class="b" style="left:883.4px;top:785.6px;width:73.8px;height:59.2px;background:#f7f7f7;border-radius:3px;box-shadow:0 0 0 1px #d3d9dd;"></div>
<div class="t" style="left:887.5px;top:794px;font-size:25.7px;line-height:25.7px;color:#0a0a14;letter-spacing:0.001px;">24,00</div>
<div class="t" style="left:888.5px;top:824px;font-size:14.67px;line-height:14.67px;color:#0a0a14;letter-spacing:-0.116px;">par jour</div>
<div class="t" style="left:1134.7px;top:530px;font-size:22.2px;line-height:22.2px;color:#0a0a14;letter-spacing:0.181px;">Performance brute</div>
<div class="b" style="left:1325.3px;top:523.3px;width:182.2px;height:31.5px;background:#fff;border-radius:3.5px;box-shadow:0 0 0 1px #9db3bf;"></div>
<div class="b" style="left:1327.3px;top:525.4px;width:149.9px;height:27.4px;background:#3169d6;"></div>
<div class="b" style="left:1477.2px;top:525.4px;width:28px;height:27.4px;background:linear-gradient(#bcdae6,#a4c4d2 50%,#8eafbe);"></div>
<svg class="b" style="left:1483.8px;top:535.2px;" width="15.2" height="8" viewBox="0 0 15.2 8"><path d="M0 0 L15.2 0 L7.6 8 Z" fill="#111"/></svg>
<div class="t" style="left:1327.8px;top:529px;font-size:22.2px;line-height:22.2px;color:#fff;letter-spacing:0.128px;">Transactions</div>
<div class="b" style="left:1511px;top:527.9px;width:21.3px;height:21.8px;background:linear-gradient(#fcfcfc,#f6f6f6 60%,#e9e9e9);border-radius:3px;box-shadow:0 0 0 1px #9fb0b9;"></div>
<svg class="b" style="left:1510.6px;top:527.6px;" width="22" height="22" viewBox="0 0 22 22"><path d="M2.7 16.3 L9.1 9.8 L8.9 4.9 Q8.9 2.9 10.9 2.9 L15.3 2.9 L14.2 4.5 L14.2 7.9 L18.2 7.9 L19 6.7 L19 10.4 Q19 12.7 16.8 12.6 L12.2 12.2 L5.7 19.2 Q4.1 20.6 2.7 19.2 Q1.5 17.7 2.7 16.3 Z" fill="#fff" stroke="#0c0c0c" stroke-width="1.45" stroke-linejoin="round"/></svg>
<svg class="b" style="left:996.8px;top:569.1px;overflow:hidden" width="609.2" height="432.4" viewBox="0 0 609.2 432.4"><rect x="0" y="74" width="609.2" height="358.4" fill="#cfbbc2"/><line x1="142.8" y1="0" x2="142.8" y2="432.4" stroke="#5a6878" stroke-opacity="0.24" stroke-width="1"/><line x1="285.4" y1="0" x2="285.4" y2="432.4" stroke="#5a6878" stroke-opacity="0.24" stroke-width="1"/><line x1="427.9" y1="0" x2="427.9" y2="432.4" stroke="#5a6878" stroke-opacity="0.24" stroke-width="1"/><line x1="570.7" y1="0" x2="570.7" y2="432.4" stroke="#5a6878" stroke-opacity="0.24" stroke-width="1"/><line x1="0" y1="109.8" x2="609.2" y2="109.8" stroke="#5a5060" stroke-opacity="0.18" stroke-width="1"/><line x1="0" y1="146.3" x2="609.2" y2="146.3" stroke="#5a5060" stroke-opacity="0.18" stroke-width="1"/><line x1="0" y1="182.9" x2="609.2" y2="182.9" stroke="#5a5060" stroke-opacity="0.18" stroke-width="1"/><line x1="0" y1="219.4" x2="609.2" y2="219.4" stroke="#5a5060" stroke-opacity="0.18" stroke-width="1"/><line x1="0" y1="256" x2="609.2" y2="256" stroke="#5a5060" stroke-opacity="0.18" stroke-width="1"/><line x1="0" y1="292.5" x2="609.2" y2="292.5" stroke="#5a5060" stroke-opacity="0.18" stroke-width="1"/><line x1="0" y1="329.1" x2="609.2" y2="329.1" stroke="#5a5060" stroke-opacity="0.18" stroke-width="1"/><line x1="0" y1="365.6" x2="609.2" y2="365.6" stroke="#5a5060" stroke-opacity="0.18" stroke-width="1"/><line x1="0" y1="402.2" x2="609.2" y2="402.2" stroke="#5a5060" stroke-opacity="0.18" stroke-width="1"/><line x1="0" y1="74" x2="609.2" y2="74" stroke="#e8707c" stroke-width="1.2" stroke-dasharray="4.5 3"/><line x1="0" y1="37.2" x2="609.2" y2="37.2" stroke="#6464dc" stroke-width="1.5"/><line x1="-0.5" y1="37.1" x2="6.64" y2="36.5" stroke="#3aa53a" stroke-width="1.5" stroke-linecap="round"/><line x1="6.64" y1="36.5" x2="13.78" y2="50.1" stroke="#d23a44" stroke-width="1.5" stroke-linecap="round"/><line x1="13.78" y1="50.1" x2="20.91" y2="65.3" stroke="#d23a44" stroke-width="1.5" stroke-linecap="round"/><line x1="20.91" y1="65.3" x2="28.05" y2="61.2" stroke="#3aa53a" stroke-width="1.5" stroke-linecap="round"/><line x1="28.05" y1="61.2" x2="35.19" y2="53.1" stroke="#3aa53a" stroke-width="1.5" stroke-linecap="round"/><line x1="35.19" y1="53.1" x2="42.33" y2="46.7" stroke="#3aa53a" stroke-width="1.5" stroke-linecap="round"/><line x1="42.33" y1="46.7" x2="49.47" y2="44" stroke="#3aa53a" stroke-width="1.5" stroke-linecap="round"/><line x1="49.47" y1="44" x2="56.6" y2="71.4" stroke="#d23a44" stroke-width="1.5" stroke-linecap="round"/><line x1="56.6" y1="71.4" x2="63.74" y2="89.1" stroke="#d23a44" stroke-width="1.5" stroke-linecap="round"/><line x1="63.74" y1="89.1" x2="70.88" y2="122.3" stroke="#d23a44" stroke-width="1.5" stroke-linecap="round"/><line x1="70.88" y1="122.3" x2="78.02" y2="114.1" stroke="#3aa53a" stroke-width="1.5" stroke-linecap="round"/><line x1="78.02" y1="114.1" x2="85.16" y2="109.2" stroke="#3aa53a" stroke-width="1.5" stroke-linecap="round"/><line x1="85.16" y1="109.2" x2="92.29" y2="101.3" stroke="#3aa53a" stroke-width="1.5" stroke-linecap="round"/><line x1="92.29" y1="101.3" x2="99.43" y2="90.3" stroke="#3aa53a" stroke-width="1.5" stroke-linecap="round"/><line x1="99.43" y1="90.3" x2="106.57" y2="78.1" stroke="#3aa53a" stroke-width="1.5" stroke-linecap="round"/><line x1="106.57" y1="78.1" x2="113.71" y2="65.6" stroke="#3aa53a" stroke-width="1.5" stroke-linecap="round"/><line x1="113.71" y1="65.6" x2="120.85" y2="60" stroke="#3aa53a" stroke-width="1.5" stroke-linecap="round"/><line x1="120.85" y1="60" x2="127.98" y2="124" stroke="#d23a44" stroke-width="1.5" stroke-linecap="round"/><line x1="127.98" y1="124" x2="135.12" y2="108.9" stroke="#3aa53a" stroke-width="1.5" stroke-linecap="round"/><line x1="135.12" y1="108.9" x2="142.26" y2="112.7" stroke="#d23a44" stroke-width="1.5" stroke-linecap="round"/><line x1="142.26" y1="112.7" x2="149.4" y2="158.6" stroke="#d23a44" stroke-width="1.5" stroke-linecap="round"/><line x1="149.4" y1="158.6" x2="156.54" y2="147" stroke="#3aa53a" stroke-width="1.5" stroke-linecap="round"/><line x1="156.54" y1="147" x2="163.67" y2="139.7" stroke="#3aa53a" stroke-width="1.5" stroke-linecap="round"/><line x1="163.67" y1="139.7" x2="170.81" y2="131.3" stroke="#3aa53a" stroke-width="1.5" stroke-linecap="round"/><line x1="170.81" y1="131.3" x2="177.95" y2="129.5" stroke="#3aa53a" stroke-width="1.5" stroke-linecap="round"/><line x1="177.95" y1="129.5" x2="185.09" y2="145" stroke="#d23a44" stroke-width="1.5" stroke-linecap="round"/><line x1="185.09" y1="145" x2="192.23" y2="160.4" stroke="#d23a44" stroke-width="1.5" stroke-linecap="round"/><line x1="192.23" y1="160.4" x2="199.36" y2="174.9" stroke="#d23a44" stroke-width="1.5" stroke-linecap="round"/><line x1="199.36" y1="174.9" x2="206.5" y2="188.2" stroke="#d23a44" stroke-width="1.5" stroke-linecap="round"/><line x1="206.5" y1="188.2" x2="213.64" y2="215.8" stroke="#d23a44" stroke-width="1.5" stroke-linecap="round"/><line x1="213.64" y1="215.8" x2="220.78" y2="244.3" stroke="#d23a44" stroke-width="1.5" stroke-linecap="round"/><line x1="220.78" y1="244.3" x2="227.92" y2="272.1" stroke="#d23a44" stroke-width="1.5" stroke-linecap="round"/><line x1="227.92" y1="272.1" x2="233.7" y2="268.4" stroke="#3aa53a" stroke-width="1.5" stroke-linecap="round"/><line x1="233.7" y1="268.4" x2="246.8" y2="266.9" stroke="#3aa53a" stroke-width="1.5" stroke-linecap="round"/><line x1="246.8" y1="266.9" x2="257" y2="263.7" stroke="#3aa53a" stroke-width="1.5" stroke-linecap="round"/><line x1="257" y1="263.7" x2="270.1" y2="260.5" stroke="#3aa53a" stroke-width="1.5" stroke-linecap="round"/><line x1="270.1" y1="260.5" x2="281.7" y2="257" stroke="#3aa53a" stroke-width="1.5" stroke-linecap="round"/><line x1="281.7" y1="257" x2="291.9" y2="255.6" stroke="#3aa53a" stroke-width="1.5" stroke-linecap="round"/><line x1="291.9" y1="255.6" x2="299.2" y2="252.7" stroke="#3aa53a" stroke-width="1.5" stroke-linecap="round"/><line x1="299.2" y1="252.7" x2="306.4" y2="251.5" stroke="#3aa53a" stroke-width="1.5" stroke-linecap="round"/><line x1="306.4" y1="251.5" x2="316.6" y2="249.5" stroke="#3aa53a" stroke-width="1.5" stroke-linecap="round"/><line x1="316.6" y1="249.5" x2="328.2" y2="248" stroke="#3aa53a" stroke-width="1.5" stroke-linecap="round"/><line x1="328.2" y1="248" x2="341.3" y2="245.4" stroke="#3aa53a" stroke-width="1.5" stroke-linecap="round"/><line x1="341.3" y1="245.4" x2="354.4" y2="233.2" stroke="#3aa53a" stroke-width="1.5" stroke-linecap="round"/><line x1="354.4" y1="233.2" x2="370.4" y2="221" stroke="#3aa53a" stroke-width="1.5" stroke-linecap="round"/><line x1="370.4" y1="221" x2="383.5" y2="217.2" stroke="#3aa53a" stroke-width="1.5" stroke-linecap="round"/><line x1="383.5" y1="217.2" x2="399.5" y2="215.2" stroke="#3aa53a" stroke-width="1.5" stroke-linecap="round"/><line x1="399.5" y1="215.2" x2="409.7" y2="212" stroke="#3aa53a" stroke-width="1.5" stroke-linecap="round"/><line x1="409.7" y1="212" x2="419.9" y2="209.1" stroke="#3aa53a" stroke-width="1.5" stroke-linecap="round"/><line x1="419.9" y1="209.1" x2="434.4" y2="200.6" stroke="#3aa53a" stroke-width="1.5" stroke-linecap="round"/><line x1="434.4" y1="200.6" x2="448.9" y2="194.5" stroke="#3aa53a" stroke-width="1.5" stroke-linecap="round"/><line x1="448.9" y1="194.5" x2="461.8" y2="191.6" stroke="#3aa53a" stroke-width="1.5" stroke-linecap="round"/><line x1="461.8" y1="191.6" x2="476.4" y2="182.9" stroke="#3aa53a" stroke-width="1.5" stroke-linecap="round"/><line x1="476.4" y1="182.9" x2="485.1" y2="180" stroke="#3aa53a" stroke-width="1.5" stroke-linecap="round"/><line x1="485.1" y1="180" x2="492.4" y2="176.5" stroke="#3aa53a" stroke-width="1.5" stroke-linecap="round"/><line x1="492.4" y1="176.5" x2="499" y2="174.7" stroke="#3aa53a" stroke-width="1.5" stroke-linecap="round"/><line x1="499" y1="174.7" x2="506" y2="167.2" stroke="#3aa53a" stroke-width="1.5" stroke-linecap="round"/><line x1="506" y1="167.2" x2="520.3" y2="339.1" stroke="#d23a44" stroke-width="1.5" stroke-linecap="round"/><line x1="520.3" y1="339.1" x2="527.5" y2="352.7" stroke="#d23a44" stroke-width="1.5" stroke-linecap="round"/><line x1="527.5" y1="352.7" x2="534.8" y2="370.5" stroke="#d23a44" stroke-width="1.5" stroke-linecap="round"/><line x1="534.8" y1="370.5" x2="541.8" y2="389.1" stroke="#d23a44" stroke-width="1.5" stroke-linecap="round"/><line x1="541.8" y1="389.1" x2="549.1" y2="398.9" stroke="#d23a44" stroke-width="1.5" stroke-linecap="round"/><circle cx="6.64" cy="36.5" r="2.7" fill="#e8f2f4" stroke="#2f9e2f" stroke-width="1.3"/><circle cx="13.78" cy="50.1" r="2.7" fill="#e8f2f4" stroke="#d2303c" stroke-width="1.3"/><circle cx="20.91" cy="65.3" r="2.7" fill="#e8f2f4" stroke="#d2303c" stroke-width="1.3"/><circle cx="56.6" cy="71.4" r="2.7" fill="#e8f2f4" stroke="#d2303c" stroke-width="1.3"/><circle cx="63.74" cy="89.1" r="2.7" fill="#e8f2f4" stroke="#d2303c" stroke-width="1.3"/><circle cx="70.88" cy="122.3" r="2.7" fill="#e8f2f4" stroke="#d2303c" stroke-width="1.3"/><circle cx="127.98" cy="124" r="2.7" fill="#e8f2f4" stroke="#d2303c" stroke-width="1.3"/><circle cx="149.4" cy="158.6" r="2.7" fill="#e8f2f4" stroke="#d2303c" stroke-width="1.3"/><circle cx="192.23" cy="160.4" r="2.7" fill="#e8f2f4" stroke="#d2303c" stroke-width="1.3"/><circle cx="199.36" cy="174.9" r="2.7" fill="#e8f2f4" stroke="#d2303c" stroke-width="1.3"/><circle cx="206.5" cy="188.2" r="2.7" fill="#e8f2f4" stroke="#d2303c" stroke-width="1.3"/><circle cx="213.64" cy="215.8" r="2.7" fill="#e8f2f4" stroke="#d2303c" stroke-width="1.3"/><circle cx="220.78" cy="244.3" r="2.7" fill="#e8f2f4" stroke="#d2303c" stroke-width="1.3"/><circle cx="227.92" cy="272.1" r="2.7" fill="#e8f2f4" stroke="#d2303c" stroke-width="1.3"/><circle cx="520.3" cy="339.1" r="2.7" fill="#e8f2f4" stroke="#d2303c" stroke-width="1.3"/><circle cx="527.5" cy="352.7" r="2.7" fill="#e8f2f4" stroke="#d2303c" stroke-width="1.3"/><circle cx="534.8" cy="370.5" r="2.7" fill="#e8f2f4" stroke="#d2303c" stroke-width="1.3"/><circle cx="541.8" cy="389.1" r="2.7" fill="#e8f2f4" stroke="#d2303c" stroke-width="1.3"/><circle cx="549.1" cy="398.9" r="2.7" fill="#e8f2f4" stroke="#d2303c" stroke-width="1.3"/></svg>
<div class="b" style="left:995.8px;top:568.1px;width:611.2px;height:434.6px;border:1.6px solid #8ea3b3;box-sizing:border-box;border-right-width:1.8px;border-bottom-width:2px;"></div>
<svg class="b" style="left:995.8px;top:567.7px;" width="611.2" height="2" viewBox="0 0 611.2 2"><line x1="0" y1="1" x2="611.2" y2="1" stroke="#4fcf5a" stroke-width="1.4" stroke-dasharray="5 3"/></svg>
<div class="t" style="left:997.8px;top:570px;font-size:14.67px;line-height:14.67px;color:#0a0a14;letter-spacing:0.085px;">Horizontal: <span style="font-weight:700;">Transactions</span>, Vertical: <span style="font-weight:700;">Devise (€)</span>, Transactions: <span style="font-weight:700;color:#1aa01a;">56</span> / <span style="font-weight:700;">0</span> / <span style="font-weight:700;color:#d01818;">21</span></div>
<div class="t" style="left:997.8px;top:986px;font-size:14.67px;line-height:14.67px;color:#f01818;letter-spacing:0.189px;">© IT-Finance.com</div>
<div class="t" style="left:1138.9px;top:1009px;font-size:14.67px;line-height:14.67px;color:#0a0a14;transform:translateX(-50%);">20</div>
<div class="t" style="left:1281.5px;top:1009px;font-size:14.67px;line-height:14.67px;color:#0a0a14;transform:translateX(-50%);">40</div>
<div class="t" style="left:1424.1px;top:1009px;font-size:14.67px;line-height:14.67px;color:#0a0a14;transform:translateX(-50%);">60</div>
<div class="t" style="left:1566.9px;top:1009px;font-size:14.67px;line-height:14.67px;color:#0a0a14;transform:translateX(-50%);">80</div>
<div class="b" style="left:1067.17px;top:1002.5px;width:1px;height:3.5px;background:#7d8f9c;"></div>
<div class="b" style="left:1138.64px;top:1002.5px;width:1px;height:3.5px;background:#7d8f9c;"></div>
<div class="b" style="left:1210.11px;top:1002.5px;width:1px;height:3.5px;background:#7d8f9c;"></div>
<div class="b" style="left:1281.58px;top:1002.5px;width:1px;height:3.5px;background:#7d8f9c;"></div>
<div class="b" style="left:1353.05px;top:1002.5px;width:1px;height:3.5px;background:#7d8f9c;"></div>
<div class="b" style="left:1424.52px;top:1002.5px;width:1px;height:3.5px;background:#7d8f9c;"></div>
<div class="b" style="left:1495.99px;top:1002.5px;width:1px;height:3.5px;background:#7d8f9c;"></div>
<div class="b" style="left:1567.46px;top:1002.5px;width:1px;height:3.5px;background:#7d8f9c;"></div>
<div class="b" style="left:1607px;top:605.1px;width:4px;height:1px;background:#7d8f9c;"></div>
<div class="t" style="left:1613.5px;top:598px;font-size:14.67px;line-height:14.67px;color:#0a0a14;font-weight:700;">0</div>
<div class="b" style="left:1607px;top:677.7px;width:4px;height:1px;background:#7d8f9c;"></div>
<div class="t" style="left:1613px;top:671px;font-size:14.67px;line-height:14.67px;color:#0a0a14;">-20</div>
<div class="b" style="left:1607px;top:714.2px;width:4px;height:1px;background:#7d8f9c;"></div>
<div class="t" style="left:1613px;top:707px;font-size:14.67px;line-height:14.67px;color:#0a0a14;">-30</div>
<div class="b" style="left:1607px;top:750.8px;width:4px;height:1px;background:#7d8f9c;"></div>
<div class="t" style="left:1613px;top:744px;font-size:14.67px;line-height:14.67px;color:#0a0a14;">-40</div>
<div class="b" style="left:1607px;top:787.3px;width:4px;height:1px;background:#7d8f9c;"></div>
<div class="t" style="left:1613px;top:780px;font-size:14.67px;line-height:14.67px;color:#0a0a14;font-weight:700;">-50</div>
<div class="b" style="left:1607px;top:823.9px;width:4px;height:1px;background:#7d8f9c;"></div>
<div class="t" style="left:1613px;top:817px;font-size:14.67px;line-height:14.67px;color:#0a0a14;">-60</div>
<div class="b" style="left:1607px;top:860.4px;width:4px;height:1px;background:#7d8f9c;"></div>
<div class="t" style="left:1613px;top:853px;font-size:14.67px;line-height:14.67px;color:#0a0a14;">-70</div>
<div class="b" style="left:1607px;top:897px;width:4px;height:1px;background:#7d8f9c;"></div>
<div class="t" style="left:1613px;top:890px;font-size:14.67px;line-height:14.67px;color:#0a0a14;">-80</div>
<div class="b" style="left:1607px;top:933.5px;width:4px;height:1px;background:#7d8f9c;"></div>
<div class="t" style="left:1613px;top:926px;font-size:14.67px;line-height:14.67px;color:#0a0a14;">-90</div>
<div class="b" style="left:1610.7px;top:567.8px;width:20.3px;height:19.6px;background:#9fb7c4;box-shadow:inset 0 0 0 1px #8aa2b0;"></div>
<div class="t" style="left:1620.85px;top:570px;font-size:14.67px;line-height:14.67px;color:#5ae05a;transform:translateX(-50%);">10</div>
<div class="b" style="left:1610.7px;top:631.6px;width:25.9px;height:19.8px;background:#9fb7c4;box-shadow:inset 0 0 0 1px #8aa2b0;"></div>
<div class="t" style="left:1623.65px;top:634px;font-size:14.67px;line-height:14.67px;color:#e06a78;transform:translateX(-50%);">-10</div>
<div class="b" style="left:1611.3px;top:956.2px;width:45.7px;height:19.4px;background:linear-gradient(#ffd21e,#ffc400);box-shadow:inset 0 0 0 1px #c9a420;"></div>
<div class="t" style="left:1634.15px;top:959px;font-size:14.67px;line-height:14.67px;color:#0a0a14;transform:translateX(-50%);">-99,35</div>
</div></div>
<div class="b" style="left:0px;top:0px;width:1659px;height:4px;background:#fff;"></div>
<div class="b" style="left:3px;top:2px;width:817px;height:2px;background:#0a0a0a;"></div>
<div class="b" style="left:820px;top:2.2px;width:274px;height:2px;background:linear-gradient(#d6f3cf,#bfe9b6);"></div>
<div class="b" style="left:1090px;top:3px;width:569px;height:1px;background:#dfe6e8;"></div>
<div class="t" style="left:897px;top:-8px;font-size:13px;line-height:13px;color:#111;clip-path:inset(8px 0 0 0);"><b>Panneau</b></div>
<div class="b" style="left:0px;top:0px;width:3px;height:1031px;background:#fff;"></div>
<div class="b" style="left:0px;top:1027px;width:1659px;height:4px;background:#fff;"></div>
</body></html>
